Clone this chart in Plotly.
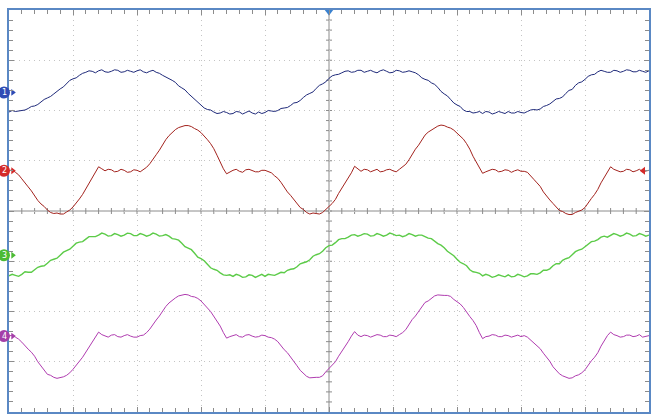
import plotly.graph_objects as go

# time axis: 5 ms/div, 10 div -> 0..50 ms, sampled every 0.25 ms
t_ms = [i * 0.25 for i in range(201)]

# channel values in divisions, relative to each channel's ground marker
ch1_div = [
    -0.39, -0.36, -0.38, -0.37, -0.35, -0.35, -0.32, -0.28, -0.27, -0.24,
    -0.19, -0.14, -0.11, -0.08, -0.03, 0.03, 0.07, 0.11, 0.18, 0.24,
    0.27, 0.29, 0.34, 0.38, 0.40, 0.43, 0.42, 0.39, 0.43, 0.45,
    0.41, 0.40, 0.42, 0.45, 0.44, 0.40, 0.41, 0.44, 0.42, 0.40,
    0.43, 0.45, 0.41, 0.39, 0.42, 0.44, 0.40, 0.38, 0.34, 0.31,
    0.27, 0.24, 0.20, 0.13, 0.09, 0.05, -0.02, -0.08, -0.13, -0.18,
    -0.26, -0.31, -0.34, -0.35, -0.39, -0.42, -0.41, -0.38, -0.40, -0.43,
    -0.42, -0.38, -0.39, -0.43, -0.40, -0.37, -0.41, -0.43, -0.39, -0.42,
    -0.40, -0.36, -0.37, -0.38, -0.36, -0.32, -0.31, -0.30, -0.26, -0.21,
    -0.20, -0.16, -0.10, -0.05, -0.02, 0.01, 0.08, 0.14, 0.17, 0.21,
    0.28, 0.33, 0.35, 0.36, 0.39, 0.42, 0.43, 0.40, 0.41, 0.44,
    0.44, 0.40, 0.42, 0.44, 0.41, 0.39, 0.43, 0.45, 0.42, 0.39,
    0.40, 0.44, 0.43, 0.40, 0.41, 0.43, 0.41, 0.39, 0.35, 0.29,
    0.26, 0.24, 0.19, 0.16, 0.10, 0.02, -0.03, -0.07, -0.14, -0.21,
    -0.25, -0.28, -0.35, -0.38, -0.38, -0.41, -0.40, -0.38, -0.42, -0.38,
    -0.39, -0.43, -0.41, -0.38, -0.40, -0.42, -0.38, -0.41, -0.41, -0.38,
    -0.40, -0.41, -0.38, -0.35, -0.34, -0.35, -0.33, -0.28, -0.26, -0.23,
    -0.18, -0.13, -0.12, -0.09, -0.02, 0.04, 0.06, 0.14, 0.19, 0.21,
    0.26, 0.32, 0.35, 0.36, 0.41, 0.44, 0.42, 0.40, 0.40, 0.44,
    0.43, 0.40, 0.42, 0.45, 0.44, 0.41, 0.41, 0.44, 0.42, 0.40,
    0.43]
ch2_div = [
    0.00, 0.02, -0.03, -0.08, -0.16, -0.25, -0.32, -0.40, -0.50, -0.59,
    -0.66, -0.71, -0.78, -0.83, -0.85, -0.84, -0.86, -0.86, -0.82, -0.78,
    -0.72, -0.65, -0.56, -0.47, -0.36, -0.26, -0.14, -0.02, 0.08, 0.04,
    0.00, 0.03, 0.02, -0.02, -0.01, 0.03, 0.01, -0.03, -0.02, 0.02,
    0.01, -0.02, 0.02, 0.07, 0.14, 0.24, 0.32, 0.41, 0.52, 0.62,
    0.70, 0.77, 0.82, 0.86, 0.88, 0.90, 0.90, 0.88, 0.84, 0.81,
    0.76, 0.70, 0.62, 0.54, 0.44, 0.31, 0.16, 0.04, -0.06, -0.02,
    0.01, 0.03, -0.01, -0.03, 0.02, 0.03, 0.00, -0.02, -0.02, 0.01,
    0.01, -0.01, -0.04, -0.10, -0.15, -0.23, -0.33, -0.42, -0.49, -0.57,
    -0.67, -0.73, -0.77, -0.83, -0.86, -0.84, -0.85, -0.86, -0.83, -0.76,
    -0.71, -0.65, -0.57, -0.45, -0.35, -0.26, -0.15, -0.04, 0.09, 0.03,
    -0.01, 0.03, 0.02, -0.02, 0.00, 0.03, -0.02, -0.01, 0.02, 0.03,
    0.00, -0.02, 0.03, 0.08, 0.13, 0.22, 0.33, 0.43, 0.51, 0.60,
    0.71, 0.77, 0.81, 0.86, 0.89, 0.91, 0.90, 0.87, 0.85, 0.81,
    0.75, 0.68, 0.63, 0.54, 0.43, 0.29, 0.17, 0.05, -0.05, -0.02,
    0.00, 0.03, 0.02, -0.02, -0.01, 0.02, 0.01, -0.03, 0.00, 0.02,
    -0.01, -0.01, -0.03, -0.09, -0.17, -0.24, -0.31, -0.42, -0.51, -0.58,
    -0.65, -0.73, -0.79, -0.81, -0.85, -0.87, -0.87, -0.83, -0.81, -0.78,
    -0.73, -0.63, -0.55, -0.47, -0.37, -0.24, -0.13, -0.03, 0.08, 0.03,
    0.01, -0.02, -0.01, 0.03, 0.02, -0.02, 0.00, 0.03, -0.02, 0.00,
    0.01]
ch3_div = [
    -0.41, -0.38, -0.40, -0.42, -0.38, -0.33, -0.34, -0.34, -0.29, -0.24,
    -0.22, -0.21, -0.16, -0.10, -0.08, -0.06, 0.00, 0.06, 0.09, 0.12,
    0.18, 0.24, 0.26, 0.27, 0.32, 0.37, 0.37, 0.37, 0.40, 0.44,
    0.42, 0.38, 0.39, 0.43, 0.41, 0.38, 0.40, 0.44, 0.43, 0.39,
    0.39, 0.43, 0.41, 0.38, 0.40, 0.44, 0.42, 0.38, 0.39, 0.41,
    0.38, 0.33, 0.32, 0.30, 0.24, 0.17, 0.14, 0.11, 0.04, -0.04,
    -0.07, -0.11, -0.18, -0.25, -0.28, -0.30, -0.35, -0.39, -0.40, -0.39,
    -0.42, -0.38, -0.40, -0.44, -0.43, -0.39, -0.40, -0.44, -0.41, -0.38,
    -0.42, -0.38, -0.39, -0.40, -0.37, -0.34, -0.35, -0.30, -0.28, -0.27,
    -0.23, -0.17, -0.15, -0.13, -0.09, -0.02, 0.01, 0.03, 0.08, 0.15,
    0.19, 0.20, 0.25, 0.31, 0.33, 0.33, 0.36, 0.40, 0.41, 0.38,
    0.40, 0.43, 0.42, 0.38, 0.39, 0.43, 0.41, 0.38, 0.40, 0.44,
    0.42, 0.39, 0.40, 0.37, 0.39, 0.43, 0.41, 0.38, 0.40, 0.40,
    0.37, 0.34, 0.33, 0.27, 0.23, 0.20, 0.15, 0.08, 0.03, -0.01,
    -0.08, -0.14, -0.17, -0.21, -0.29, -0.33, -0.34, -0.36, -0.41, -0.38,
    -0.40, -0.44, -0.42, -0.39, -0.41, -0.43, -0.39, -0.43, -0.42, -0.38,
    -0.40, -0.43, -0.41, -0.37, -0.37, -0.38, -0.35, -0.30, -0.30, -0.27,
    -0.21, -0.17, -0.17, -0.10, -0.07, -0.05, 0.01, 0.07, 0.10, 0.12,
    0.17, 0.23, 0.27, 0.28, 0.31, 0.36, 0.38, 0.36, 0.39, 0.43,
    0.41, 0.38, 0.40, 0.44, 0.42, 0.38, 0.39, 0.43, 0.41, 0.38,
    0.40]
ch4_div = [
    0.00, 0.02, -0.02, -0.06, -0.12, -0.20, -0.26, -0.32, -0.40, -0.51,
    -0.60, -0.69, -0.76, -0.78, -0.82, -0.84, -0.83, -0.81, -0.78, -0.73,
    -0.66, -0.57, -0.50, -0.42, -0.32, -0.20, -0.10, 0.00, 0.08, 0.03,
    0.00, -0.02, 0.02, 0.03, -0.01, -0.02, 0.01, 0.03, 0.00, -0.02,
    -0.02, 0.01, 0.02, 0.07, 0.14, 0.24, 0.32, 0.40, 0.50, 0.59,
    0.66, 0.72, 0.76, 0.80, 0.81, 0.83, 0.82, 0.79, 0.78, 0.75,
    0.70, 0.62, 0.56, 0.49, 0.40, 0.29, 0.20, 0.07, -0.04, -0.01,
    0.01, 0.03, -0.01, -0.02, 0.02, 0.03, 0.00, -0.02, -0.01, 0.02,
    0.01, -0.02, -0.03, -0.06, -0.11, -0.20, -0.27, -0.33, -0.41, -0.51,
    -0.59, -0.68, -0.75, -0.80, -0.83, -0.82, -0.82, -0.82, -0.79, -0.71,
    -0.65, -0.59, -0.51, -0.40, -0.31, -0.22, -0.11, 0.00, 0.09, 0.02,
    -0.01, 0.02, 0.01, -0.02, 0.00, 0.03, 0.02, -0.01, -0.01, 0.02,
    0.01, -0.01, 0.03, 0.07, 0.13, 0.24, 0.33, 0.40, 0.49, 0.59,
    0.67, 0.70, 0.75, 0.80, 0.82, 0.81, 0.81, 0.81, 0.79, 0.73,
    0.69, 0.64, 0.57, 0.47, 0.39, 0.31, 0.21, 0.07, -0.05, -0.01,
    0.00, 0.03, 0.02, -0.01, -0.01, 0.02, 0.01, -0.02, 0.00, 0.02,
    -0.01, 0.01, -0.02, -0.08, -0.13, -0.18, -0.25, -0.34, -0.41, -0.50,
    -0.61, -0.69, -0.75, -0.79, -0.81, -0.84, -0.83, -0.79, -0.77, -0.73,
    -0.67, -0.57, -0.49, -0.42, -0.33, -0.20, -0.09, 0.01, 0.08, 0.03,
    0.01, -0.02, -0.01, 0.02, 0.02, -0.01, 0.00, 0.03, -0.02, 0.00,
    0.01]

channel_labels = ["1", "2", "3", "4"]
channel_offsets = [2.36, 0.80, -0.88, -2.49]          # ground marker positions (div)
trace_colors = ["#1f2a7a", "#a3231e", "#5ccb48", "#b03cb0"]
marker_colors = ["#2f4cb5", "#d42a2a", "#4cbb34", "#a43fa8"]
trace_widths = [1.0, 1.0, 1.4, 1.0]

X_MIN, X_MAX = 0, 50
Y_MIN, Y_MAX = -4, 4

fig = go.Figure()

series = [ch1_div, ch2_div, ch3_div, ch4_div]
for vals, off, col, w in zip(series, channel_offsets, trace_colors, trace_widths):
    fig.add_trace(go.Scatter(x=t_ms[:len(vals)], y=[v + off for v in vals], mode="lines",
                             line=dict(color=col, width=w), hoverinfo="skip"))

# small arrows next to ground markers
fig.add_trace(go.Scatter(x=[0.3] * 4, y=channel_offsets, mode="markers",
                         marker=dict(size=6, color=marker_colors, symbol="triangle-right"),
                         cliponaxis=False, hoverinfo="skip"))
# channel-2 marker on right edge
fig.add_trace(go.Scatter(x=[49.55], y=[channel_offsets[1]], mode="markers",
                         marker=dict(size=7, color="#d42a2a", symbol="triangle-left"),
                         cliponaxis=False, hoverinfo="skip"))
# trigger position marker on top
fig.add_trace(go.Scatter(x=[25], y=[Y_MAX - 0.02], mode="markers",
                         marker=dict(size=9, color="#3b82cf", symbol="triangle-down"),
                         cliponaxis=False, hoverinfo="skip"))

shapes = []
annotations = []
# ground marker circles (in the left margin)
for lab, off, mc in zip(channel_labels, channel_offsets, marker_colors):
    yp = (off - Y_MIN) / (Y_MAX - Y_MIN)
    shapes.append(dict(type="circle", xref="paper", yref="paper", xsizemode="pixel", ysizemode="pixel",
                       xanchor=0, yanchor=yp, x0=-11, x1=1, y0=-6, y1=6,
                       fillcolor=mc, line=dict(width=0), layer="above"))
    annotations.append(dict(xref="paper", yref="paper", x=0, y=yp, xshift=-5, text=lab, showarrow=False,
                            font=dict(color="white", size=8, family="DejaVu Sans"),
                            xanchor="center", yanchor="middle"))

# centre cross lines
shapes.append(dict(type="line", xref="x", yref="y", x0=25, x1=25, y0=Y_MIN, y1=Y_MAX,
                   line=dict(color="#8c8c8c", width=1), layer="below"))
shapes.append(dict(type="line", xref="x", yref="y", x0=X_MIN, x1=X_MAX, y0=0, y1=0,
                   line=dict(color="#8c8c8c", width=1), layer="below"))
# minor ticks on the centre lines
for i in range(1, 50):
    shapes.append(dict(type="line", xref="x", yref="y", ysizemode="pixel", yanchor=0,
                       x0=i, x1=i, y0=-3, y1=3, line=dict(color="#8c8c8c", width=1), layer="below"))
for j in range(1, 40):
    yy = Y_MIN + j * 0.2
    shapes.append(dict(type="line", xref="x", yref="y", xsizemode="pixel", xanchor=25,
                       x0=-3, x1=3, y0=yy, y1=yy, line=dict(color="#8c8c8c", width=1), layer="below"))

fig.update_layout(
    width=652, height=418,
    margin=dict(l=9, r=1, t=10, b=6),
    paper_bgcolor="white", plot_bgcolor="white",
    showlegend=False,
    shapes=shapes,
    annotations=annotations,
    xaxis=dict(range=[X_MIN, X_MAX], dtick=5, tick0=0, showticklabels=False,
               showgrid=True, gridcolor="#c4c4c4", griddash="1px,4px", gridwidth=1,
               zeroline=False, showline=True, linecolor="#5a88c4", linewidth=2, mirror="ticks",
               ticks="inside", ticklen=5, tickcolor="#8c8c8c",
               minor=dict(dtick=1, ticks="inside", ticklen=4, tickcolor="#8c8c8c", showgrid=False)),
    yaxis=dict(range=[Y_MIN, Y_MAX], dtick=1, tick0=0, showticklabels=False,
               showgrid=True, gridcolor="#c4c4c4", griddash="1px,4px", gridwidth=1,
               zeroline=False, showline=True, linecolor="#5a88c4", linewidth=2, mirror="ticks",
               ticks="inside", ticklen=5, tickcolor="#8c8c8c",
               minor=dict(dtick=0.2, ticks="inside", ticklen=4, tickcolor="#8c8c8c", showgrid=False)),
)

fig.write_html("out.html", config={"displayModeBar": False},
               post_script="document.body.style.margin='0';document.body.style.overflow='hidden';")
